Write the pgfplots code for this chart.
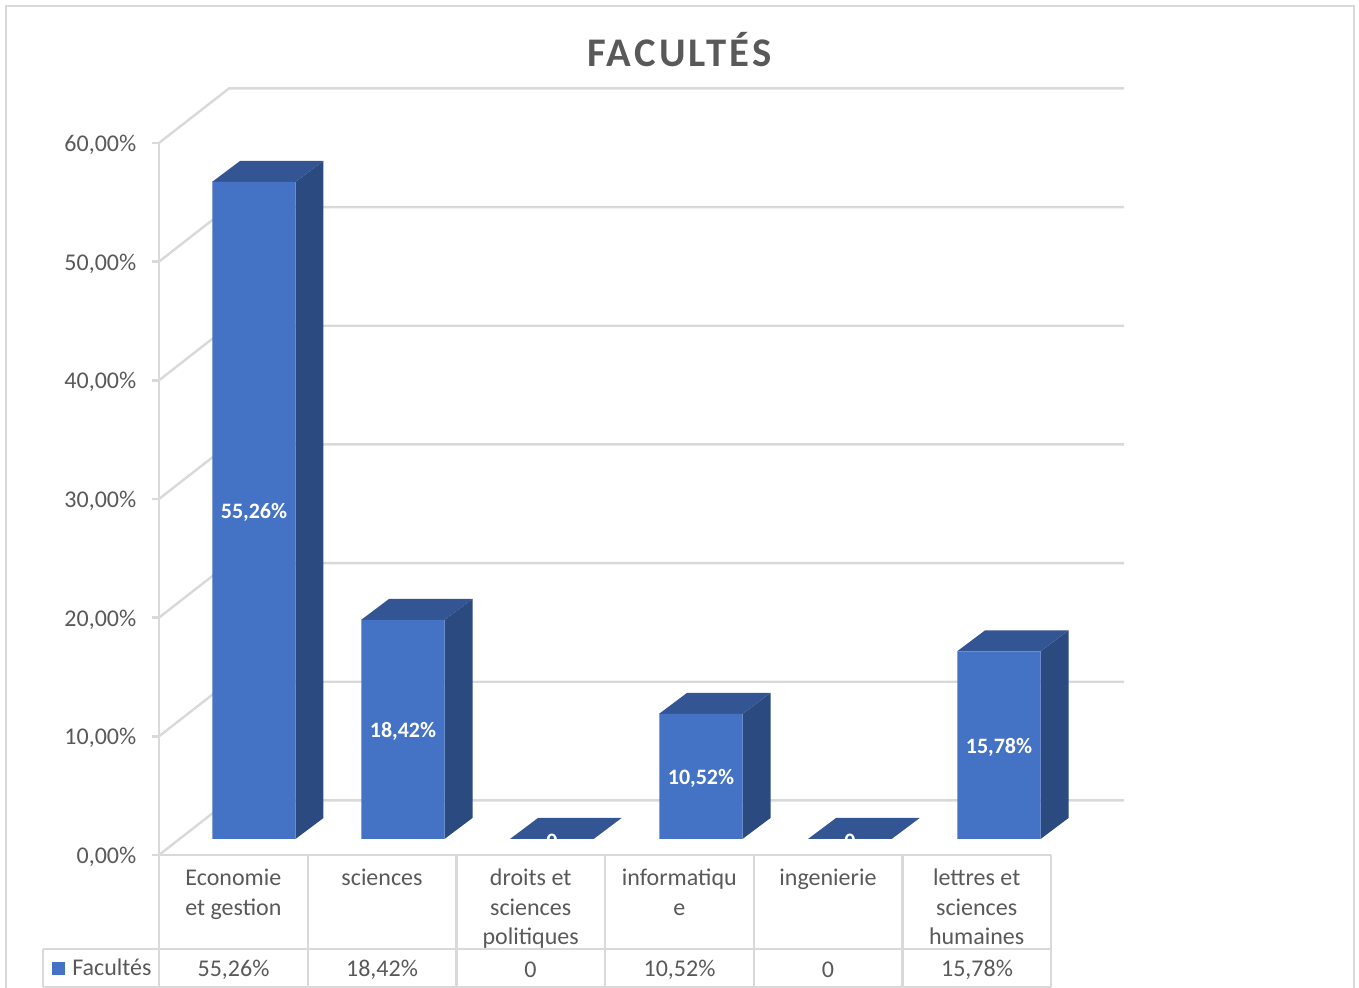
\documentclass[border=0pt]{standalone}
\usepackage{pgfplots}
\usepackage{pgfplotstable}
\usepackage{fontspec}
\setmainfont{Carlito}
\pgfplotsset{compat=1.18}

\definecolor{barfront}{HTML}{4472C4}
\definecolor{barside}{HTML}{2A4A80}
\definecolor{bartop}{HTML}{335593}
\definecolor{rulegrey}{HTML}{D9D9D9}
\definecolor{textgrey}{HTML}{595959}

% Share of each faculty, in percent
\pgfplotstableread{
pos share
0   55.26
1   18.42
2   0
3   10.52
4   0
5   15.78
}\facultes

% Side and top faces of a bar standing at #1 with height #2
\newcommand{\prismfaces}[2]{%
  \addplot[fill=barside,draw=none] coordinates
    {({#1+.2785},0) ({#1+.4664},1.766) ({#1+.4664},{#2+1.766}) ({#1+.2785},#2)} --cycle;
  \addplot[fill=bartop,draw=none] coordinates
    {({#1-.2819},#2) ({#1-.0940},{#2+1.766}) ({#1+.4664},{#2+1.766}) ({#1+.2785},#2)} --cycle;
}
% Wall line of the 3D frame for one tick value
\newcommand{\wallline}[1]{%
  \addplot[rulegrey,line width=1.8pt] coordinates {(0,#1) (.4708,{#1+4.6}) (6.491,{#1+4.6})};
}

\begin{document}
\begin{tikzpicture}
\path[use as bounding box] (0,0) rectangle (1019.25pt,741pt);

% Frame, gridlines and value axis
\begin{axis}[
  at={(119.25pt,99.75pt)},anchor=south west,
  scale only axis,width=669pt,height=534pt,
  xmin=0,xmax=6,ymin=0,ymax=60,clip=false,
  axis x line*=bottom,axis y line*=left,
  axis line style={rulegrey,line width=1.8pt},
  ytick={0,10,20,30,40,50,60},
  yticklabels={{0,00\%},{10,00\%},{20,00\%},{30,00\%},{40,00\%},{50,00\%},{60,00\%}},
  y tick style={rulegrey,line width=1.8pt},
  tick align=outside,major tick length=5pt,
  ytick pos=left,
  y tick label style={font=\fontsize{18}{22}\selectfont,text=textgrey,xshift=-8.5pt,yshift=-1.5pt},
  xtick={.5,1.5,2.5,3.5,4.5,5.5},
  xticklabels={{Economie\\et gestion},{sciences},{droits et\\sciences\\politiques},
    {informatiqu\\e},{ingenierie},{lettres et\\sciences\\humaines}},
  x tick style={draw=none},
  xtick pos=bottom,
  x tick label style={font=\fontsize{18}{22.1}\selectfont,text=textgrey,align=center,
    anchor=north,yshift=-2.2pt},
]
\wallline{0}\wallline{10}\wallline{20}\wallline{30}\wallline{40}\wallline{50}\wallline{60}
\end{axis}

% Bars with their depth faces and data labels
\begin{axis}[
  at={(119.25pt,99.75pt)},anchor=south west,
  scale only axis,width=669pt,height=534pt,
  xmin=-.6376,xmax=5.349,ymin=-1.346,ymax=58.54,clip=false,
  hide axis,
]
\prismfaces{0}{55.26}
\prismfaces{1}{18.42}
\prismfaces{2}{0}
\prismfaces{3}{10.52}
\prismfaces{4}{0}
\prismfaces{5}{15.78}
\addplot[ybar,bar width=62.5pt,fill=barfront,draw=none] table[x=pos,y=share] {\facultes};
\addplot[draw=none,mark=none,
  restrict y to domain=0.1:100,
  point meta={\thisrow{share}},
  nodes near coords={\pgfmathprintnumber[fixed,fixed zerofill,precision=2,use comma,assume math mode=true]{\pgfplotspointmeta}\%},
  nodes near coords align=center,
  every node near coord/.append style={text=white,font=\fontsize{16.5}{20}\bfseries\selectfont,inner sep=0pt,yshift=-1.5pt},
] table[x=pos,y expr=\thisrow{share}/2] {\facultes};
% The zero labels sink behind the floor of the plot
\begin{scope}
  \clip (axis cs:1.6,0) rectangle (axis cs:4.4,3);
  \node[text=white,font=\fontsize{16.5}{20}\bfseries\selectfont] at (axis cs:2,-.17) {0};
  \node[text=white,font=\fontsize{16.5}{20}\bfseries\selectfont] at (axis cs:4,-.17) {0};
\end{scope}
\end{axis}

% Outer border, title and data table, laid out in a top-down grid
\begin{scope}[x=.75pt,y=-.75pt,yshift=741pt]
  \draw[rulegrey,line width=2pt] (6,990) -- (6,6) -- (1354,6) -- (1354,990);
  \node[text=textgrey,font=\fontsize{30.5}{36}\bfseries\selectfont] at (679.5,50)
    {\addfontfeature{LetterSpace=8}FACULTÉS};
  \draw[rulegrey,line width=1.8pt] (43,949) -- (1051,949) (43,987) -- (1051,987) (43,949) -- (43,987);
  \draw[rulegrey,line width=1.8pt] (159,855) -- (159,987) (307.7,855) -- (307.7,987)
    (456.3,855) -- (456.3,987) (605,855) -- (605,987) (753.7,855) -- (753.7,987)
    (902.3,855) -- (902.3,987) (1051,855) -- (1051,987);
  \fill[barfront] (52,962) rectangle (65,975);
  \begin{scope}[every node/.style={text=textgrey,font=\fontsize{18}{22}\selectfont}]
    \node[anchor=west,inner sep=0pt] at (72,967) {Facultés};
    \node at (233.5,969.5) {55,26\%};
    \node at (382,969.5) {18,42\%};
    \node at (530.5,969.5) {0};
    \node at (679.5,969.5) {10,52\%};
    \node at (828,969.5) {0};
    \node at (977,969.5) {15,78\%};
  \end{scope}
\end{scope}
\end{tikzpicture}
\end{document}
